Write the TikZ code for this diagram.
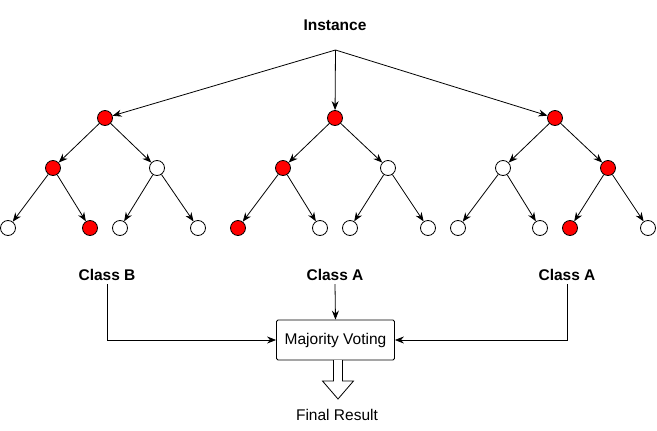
\documentclass[tikz,border=0pt]{standalone}
\usepackage{fontspec}
\setmainfont{Liberation Sans}
\usepackage{tikz}
\usetikzlibrary{
    arrows.meta,
    positioning,
    calc
}
\definecolor{hitred}{RGB}{255,0,0}
\tikzset{
    leaf/.style={circle, draw=black, fill=white, minimum size=15pt,
                 inner sep=0pt, line width=0.8pt},
    hit/.style={leaf, fill=hitred},
    edge/.style={-{Stealth[length=9pt,width=7pt]}, line width=0.8pt},
    label/.style={font=\fontsize{15.5}{18}\selectfont\bfseries},
}

\begin{document}
\begin{tikzpicture}[x=1pt, y=-1pt]
    \useasboundingbox (0,0) rectangle (657,431);

    %% Nodes
        \node[label] (inst) at (335,25) {Instance};
        \coordinate (split) at (335.5,50);

        \node[hit]  (r1) at (105,118) {};
        \node[hit]  (r2) at (335,118) {};
        \node[hit]  (r3) at (555,118) {};

        \node[hit]  (a1) at (53,168) {};
        \node[leaf] (b1) at (157,168) {};
        \node[hit]  (a2) at (283,168) {};
        \node[leaf] (b2) at (388,168) {};
        \node[leaf] (a3) at (503,168) {};
        \node[hit]  (b3) at (608,168) {};

        \node[leaf] (a1l) at (8,228) {};
        \node[hit]  (a1r) at (90,228) {};
        \node[leaf] (b1l) at (120,228) {};
        \node[leaf] (b1r) at (198,228) {};
        \node[hit]  (a2l) at (238,228) {};
        \node[leaf] (a2r) at (320,228) {};
        \node[leaf] (b2l) at (350,228) {};
        \node[leaf] (b2r) at (428,228) {};
        \node[leaf] (a3l) at (458,228) {};
        \node[leaf] (a3r) at (540,228) {};
        \node[hit]  (b3l) at (570,228) {};
        \node[leaf] (b3r) at (648,228) {};

        \node[label] (cls1) at (107,275) {Class B};
        \node[label] (cls2) at (335,275) {Class A};
        \node[label] (cls3) at (567,275) {Class A};

        \node[draw, line width=0.8pt, rounded corners=1.5pt,
              minimum width=118pt, minimum height=40pt,
              font=\fontsize{15.5}{18}\selectfont]
              (vote) at (335.5,340) {Majority Voting};
        \node[font=\fontsize{15.5}{18}\selectfont] (res) at (337,415) {Final Result};

    %% Edges
        \draw[edge] (split) -- (r1);
        \draw[edge] (split) -- (r2);
        \draw[edge] (split) -- (r3);

        \draw[edge] (r1) -- (a1);
        \draw[edge] (r1) -- (b1);
        \draw[edge] (r2) -- (a2);
        \draw[edge] (r2) -- (b2);
        \draw[edge] (r3) -- (a3);
        \draw[edge] (r3) -- (b3);

        \draw[edge] (a1) -- (a1l);
        \draw[edge] (a1) -- (a1r);
        \draw[edge] (b1) -- (b1l);
        \draw[edge] (b1) -- (b1r);
        \draw[edge] (a2) -- (a2l);
        \draw[edge] (a2) -- (a2r);
        \draw[edge] (b2) -- (b2l);
        \draw[edge] (b2) -- (b2r);
        \draw[edge] (a3) -- (a3l);
        \draw[edge] (a3) -- (a3r);
        \draw[edge] (b3) -- (b3l);
        \draw[edge] (b3) -- (b3r);

        \draw[edge] (cls1.south) |- (vote.west);
        \draw[edge] (cls2.south) -- (vote.north);
        \draw[edge] (cls3.south) |- (vote.east);

    %% Hollow arrow to result
        \coordinate (vs) at (338,360);
        \draw[line width=0.8pt, fill=white]
            ($(vs)+(-4.5,0)$) -- ($(vs)+(-4.5,21)$) -- ($(vs)+(-15.5,21)$)
            -- ($(vs)+(0,39)$) -- ($(vs)+(15.5,21)$) -- ($(vs)+(4.5,21)$)
            -- ($(vs)+(4.5,0)$);
\end{tikzpicture}
\end{document}
